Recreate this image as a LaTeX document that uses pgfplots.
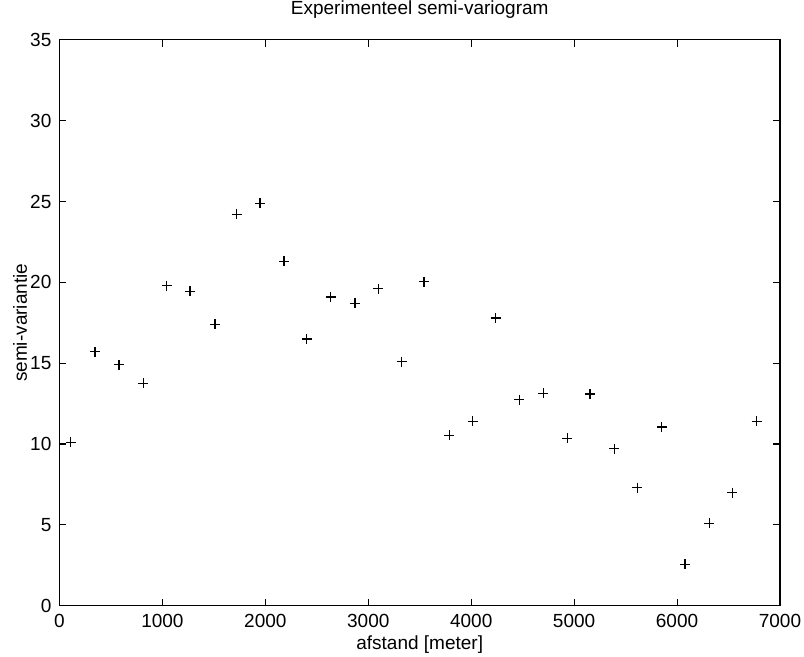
\documentclass[border=0pt]{standalone}
\usepackage{pgfplots}
\pgfplotsset{compat=1.18}
\usepackage{fontspec}
\setmainfont{Liberation Sans}
\pgfplotstableread{
x y
109 10.1
345 15.7
578 14.9
814 13.75
1041 19.8
1268 19.45
1511 17.4
1721 24.2
1948 24.9
2181 21.3
2401 16.5
2635 19.1
2871 18.7
3097 19.6
3325 15.1
3541 20.05
3787 10.55
4014 11.4
4238 17.8
4467 12.75
4700 13.15
4934 10.35
5154 13.1
5390 9.7
5614 7.3
5851 11.05
6077 2.55
6313 5.1
6537 7.0
6773 11.4
}\datatable
\begin{document}
\begin{tikzpicture}
\path[use as bounding box] (0,0) rectangle (603pt,492.75pt);
\begin{axis}[
  at={(44.6pt,38.5pt)}, anchor=south west,
  scale only axis, width=540.4pt, height=424.3pt,
  xmin=0, xmax=7000, ymin=0, ymax=35,
  xtick={0,1000,...,7000}, ytick={0,5,...,35},
  tick align=inside, major tick length=5pt,
  axis line style={line width=0.8pt}, tick style={line width=0.8pt, black},
  /pgf/number format/assume math mode=true,
  /pgf/number format/set thousands separator={},
  scaled x ticks=false,
  tick label style={font=\fontsize{14.25pt}{17pt}\selectfont},
  xticklabel style={anchor=base, yshift=-16.5pt},
  yticklabel style={anchor=east, inner sep=0pt, xshift=-5.9pt},
  title={Experimenteel semi-variogram},
  title style={at={(axis description cs:0.5,1)}, anchor=base, yshift=12.75pt, font=\fontsize{14.25pt}{17pt}\selectfont},
  xlabel={afstand [meter]},
  xlabel style={at={(axis description cs:0.5,0)}, anchor=base, yshift=-33pt, font=\fontsize{14.25pt}{17pt}\selectfont},
  ylabel={semi-variantie},
  ylabel style={at={(axis description cs:-0.0451,0.5)}, anchor=base, font=\fontsize{14.25pt}{17pt}\selectfont},
]
\addplot[only marks, mark=+, mark size=3.75pt, mark options={line width=0.9pt, black}] table[x=x,y=y] {\datatable};
\end{axis}
\end{tikzpicture}
\end{document}
